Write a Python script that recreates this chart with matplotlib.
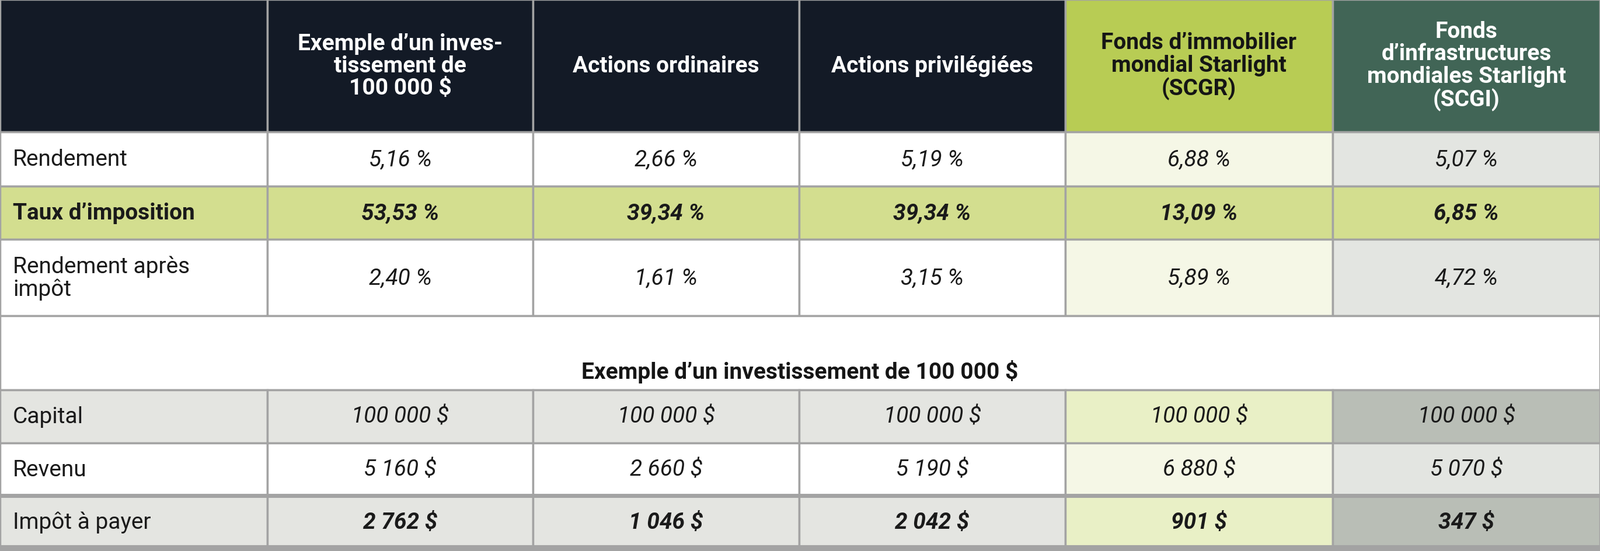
import matplotlib.pyplot as plt
from matplotlib.patches import Rectangle

# data
headers = ["Exemple d\u2019un inves-\ntissement de\n100 000 $", "Actions ordinaires",
           "Actions privil\u00e9gi\u00e9es", "Fonds d\u2019immobilier\nmondial Starlight\n(SCGR)",
           "Fonds\nd\u2019infrastructures\nmondiales Starlight\n(SCGI)"]
row_labels_top = ["Rendement", "Taux d\u2019imposition", "Rendement apr\u00e8s\nimp\u00f4t"]
rendement = ["5,16 %", "2,66 %", "5,19 %", "6,88 %", "5,07 %"]
taux = ["53,53 %", "39,34 %", "39,34 %", "13,09 %", "6,85 %"]
apres_impot = ["2,40 %", "1,61 %", "3,15 %", "5,89 %", "4,72 %"]
section_title = "Exemple d\u2019un investissement de 100 000 $"
row_labels_bottom = ["Capital", "Revenu", "Imp\u00f4t \u00e0 payer"]
capital = ["100 000 $"] * 5
revenu = ["5 160 $", "2 660 $", "5 190 $", "6 880 $", "5 070 $"]
impot = ["2 762 $", "1 046 $", "2 042 $", "901 $", "347 $"]

W, H = 2741, 945
col_x = [0, 458, 913, 1369, 1825, 2283, 2741]
row_y = [0, 227, 320, 411, 542, 669, 760, 850, 940]

NAVY = "#131a26"
GRID = "#a3a3a3"
FONT = "Roboto"

fig = plt.figure(figsize=(W / 100, H / 100), dpi=100)
ax = fig.add_axes([0, 0, 1, 1])
ax.set_xlim(0, W)
ax.set_ylim(H, 0)
ax.axis("off")


def cell(c0, c1, r, color):
    ax.add_patch(Rectangle((col_x[c0], row_y[r]), col_x[c1] - col_x[c0],
                           row_y[r + 1] - row_y[r], facecolor=color,
                           edgecolor=GRID, linewidth=2.5))


def text(x, y, s, color="#1a1a1a", bold=False, italic=False, ha="center", size=28):
    ax.text(x, y, s, ha=ha, va="center", color=color, fontsize=size, family=FONT,
            fontweight="bold" if bold else "normal",
            fontstyle="italic" if italic else "normal", linespacing=1.05)


def mid(c):
    return (col_x[c] + col_x[c + 1]) / 2


def rmid(r):
    return (row_y[r] + row_y[r + 1]) / 2


# header
head_colors = [NAVY, NAVY, NAVY, NAVY, "#b8cc54", "#416556"]
for c in range(6):
    cell(c, c + 1, 0, head_colors[c])
for i, h in enumerate(headers):
    text(mid(i + 1), rmid(0), h, color="#151515" if i == 3 else "white", bold=True)

# top rows
row_colors = [
    ["white", "white", "white", "white", "#f5f7e6", "#e3e5e1"],
    ["#d3de8f"] * 6,
    ["white", "white", "white", "white", "#f5f7e6", "#e3e5e1"],
]
top_values = [rendement, taux, apres_impot]
for r in range(3):
    for c in range(6):
        cell(c, c + 1, r + 1, row_colors[r][c])
    bold = r == 1
    text(22, rmid(r + 1), row_labels_top[r], bold=bold, ha="left")
    for i, v in enumerate(top_values[r]):
        text(mid(i + 1), rmid(r + 1), v, bold=bold, italic=True)

# section title
cell(0, 6, 4, "white")
ax.text(W / 2, row_y[5] - 32, section_title, ha="center", va="center", fontsize=28,
        family=FONT, fontweight="bold", color="#151515")

# bottom rows
bottom_colors = [
    ["#e4e5e1"] * 4 + ["#e9f0c6", "#b9beb6"],
    ["white"] * 4 + ["#f5f7e6", "#e3e5e1"],
    ["#e4e5e1"] * 4 + ["#e9f0c6", "#b9beb6"],
]
bottom_values = [capital, revenu, impot]
for r in range(3):
    for c in range(6):
        cell(c, c + 1, r + 5, bottom_colors[r][c])
    text(22, rmid(r + 5), row_labels_bottom[r], ha="left")
    for i, v in enumerate(bottom_values[r]):
        text(mid(i + 1), rmid(r + 5), v, bold=r == 2, italic=True)

# thicker rules around the last row
ax.plot([0, W], [row_y[7], row_y[7]], color=GRID, linewidth=5)
ax.plot([0, W], [row_y[8], row_y[8]], color=GRID, linewidth=8)

fig.savefig("out.png", dpi=100)
